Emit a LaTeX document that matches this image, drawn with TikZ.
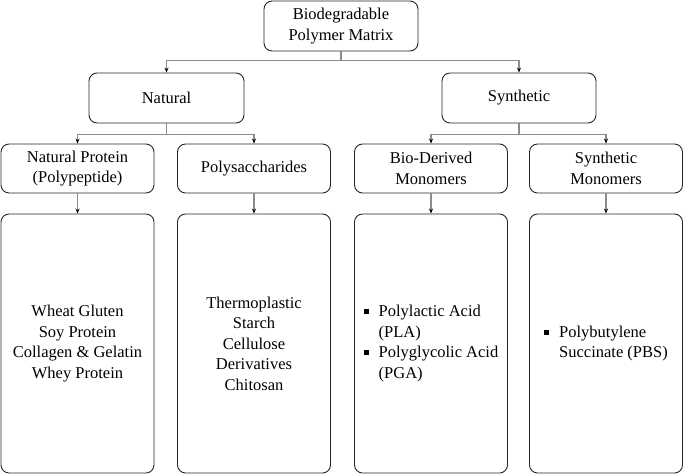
\documentclass[tikz,border=0pt]{standalone}
\usepackage{fontspec}
\setmainfont{Liberation Serif}
\usetikzlibrary{arrows.meta}
\newcommand{\sqb}{\raisebox{2.5pt}{\rule{5pt}{5pt}}}
\begin{document}
\begin{tikzpicture}[x=1pt,y=-1pt,
  box/.style={draw=black!85,line width=0.9pt,rounded corners=8pt,align=center,
    minimum width=153pt,inner sep=2pt,font=\fontsize{16.5}{20.5}\selectfont},
  small/.style={box,minimum height=49pt},
  tall/.style={box,minimum height=259pt},
  conn/.style={draw=black!45,line width=1.1pt,-{Stealth[length=5pt,width=4pt,black]}}]
\useasboundingbox (0,0) rectangle (685,475);
\node[small,minimum width=154pt,minimum height=50pt] (top) at (341,26) {Biodegradable\\Polymer Matrix};
\node[small,minimum width=155pt,minimum height=50pt] (nat) at (166.5,98) {Natural};
\node[small,minimum width=154pt,minimum height=50pt] (syn) at (519,98) {Synthetic};
\node[small] (prot) at (77.5,168.5) {Natural Protein\\(Polypeptide)};
\node[small] (poly) at (254,168.5) {Polysaccharides};
\node[small] (bio) at (431,168.5) {Bio-Derived\\Monomers};
\node[small] (smon) at (606,168.5) {Synthetic\\Monomers};
\node[tall] (protl) at (77.5,343.5) {Wheat Gluten\\Soy Protein\\Collagen \& Gelatin\\Whey Protein};
\node[tall] (polyl) at (254,343.5) {Thermoplastic\\Starch\\Cellulose\\Derivatives\\Chitosan};
\node[tall] (biol) at (431,343.5) {\begin{tabular}{@{}l@{\hspace{10pt}}l@{}}\sqb & Polylactic Acid\\ & (PLA)\\ \sqb & Polyglycolic Acid\\ & (PGA)\end{tabular}};
\node[tall] (smonl) at (606,343.5) {\begin{tabular}{@{}l@{\hspace{10pt}}l@{}}\sqb & Polybutylene\\ & Succinate (PBS)\end{tabular}};
\draw[conn] (top.south) -- ++(0,9) -| (nat.north);
\draw[conn] (top.south) -- ++(0,9) -| (syn.north);
\draw[conn] (nat.south) -- ++(0,11) -| (prot.north);
\draw[conn] (nat.south) -- ++(0,11) -| (poly.north);
\draw[conn] (syn.south) -- ++(0,11) -| (bio.north);
\draw[conn] (syn.south) -- ++(0,11) -| (smon.north);
\draw[conn] (prot.south) -- (protl.north);
\draw[conn] (poly.south) -- (polyl.north);
\draw[conn] (bio.south) -- (biol.north);
\draw[conn] (smon.south) -- (smonl.north);
\end{tikzpicture}
\end{document}
